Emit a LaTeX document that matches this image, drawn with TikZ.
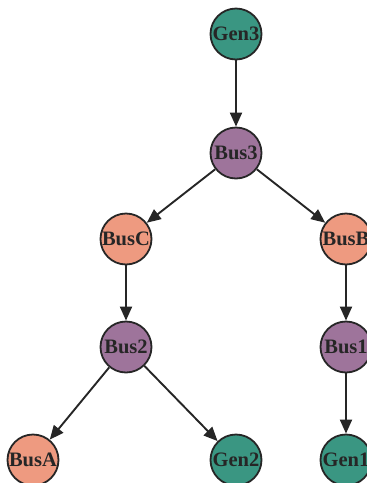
\documentclass[tikz,border=0pt]{standalone}
\usepackage{fontspec}
\setmainfont{Liberation Serif}
\usetikzlibrary{arrows.meta}

\definecolor{genszin}{RGB}{58,150,130}
\definecolor{busszin}{RGB}{158,116,155}
\definecolor{csatszin}{RGB}{238,154,128}

\tikzset{
	csucs/.style={circle, draw=black!85, line width=1.8pt, minimum size=51pt, inner sep=0pt, font=\fontsize{20.5}{20.5}\selectfont\bfseries, text=black!85},
	gen/.style={csucs, fill=genszin},
	bus/.style={csucs, fill=busszin},
	csat/.style={csucs, fill=csatszin},
	el/.style={line width=1.9pt, draw=black!85, -{Triangle[length=14pt,width=12pt]}}
}

\begin{document}
\begin{tikzpicture}[x=1pt, y=-1pt]
		
		% Keret
		\useasboundingbox (0,0) rectangle (367,483);
		
		% Felső ág
		\node[gen] (gen3) at (236,34) {Gen3};
		\node[bus] (bus3) at (236,153) {Bus3};
		
		% Bal ág
		\node[csat] (busC) at (126,239) {BusC};
		\node[bus] (bus2) at (126,347) {Bus2};
		\node[csat] (busA) at (33,460) {BusA};
		\node[gen] (gen2) at (236,460) {Gen2};
		
		% Jobb ág
		\node[csat] (busB) at (346,239) {BusB};
		\node[bus] (bus1) at (346,347) {Bus1};
		\node[gen] (gen1) at (346,460) {Gen1};
		
		% Élek
		\draw[el] (gen3) -- (bus3);
		\draw[el] (bus3) -- (busC);
		\draw[el] (bus3) -- (busB);
		\draw[el] (busC) -- (bus2);
		\draw[el] (busB) -- (bus1);
		\draw[el] (bus2) -- (busA);
		\draw[el] (bus2) -- (gen2);
		\draw[el] (bus1) -- (gen1);
		
	\end{tikzpicture}
\end{document}
